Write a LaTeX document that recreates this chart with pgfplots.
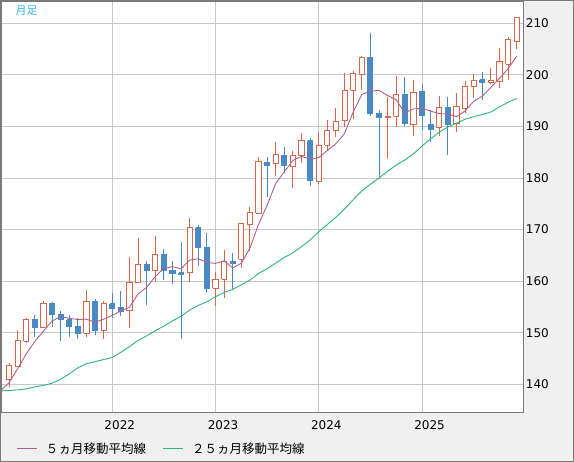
\documentclass[border=0pt]{standalone}
\usepackage{fontspec}
\setmainfont{DejaVu Sans}
\newfontfamily\jp{Noto Sans CJK JP}
\usepackage{pgfplots}
\usepackage{pgfplotstable}
\pgfplotsset{compat=1.18}
\definecolor{cup}{HTML}{D9654A}
\definecolor{cdn}{HTML}{4A8AC4}
\definecolor{ma5}{HTML}{B0628C}
\definecolor{ma25}{HTML}{2DB57C}
\definecolor{gridc}{HTML}{C8C8C8}
\definecolor{bgc}{HTML}{F0F0F0}
\definecolor{framec}{HTML}{7A7A7A}
\definecolor{titc}{HTML}{30B4F0}

\pgfplotstableread{
i O H L C
0 141.0 144.2 139.5 143.6
1 143.5 150.5 143.3 148.5
2 148.3 152.9 148.0 152.6
3 152.6 153.4 149.1 151.0
4 151.0 156.2 150.9 155.7
5 155.7 155.9 151.2 153.6
6 153.6 154.2 148.4 152.5
7 152.5 153.4 149.2 151.2
8 151.3 152.8 148.8 149.8
9 149.9 158.3 149.2 156.1
10 156.1 156.5 149.6 150.4
11 150.4 156.1 148.8 155.7
12 155.6 157.8 152.9 154.7
13 154.8 158.1 153.3 154.2
14 154.3 164.7 151.0 159.8
15 159.7 168.4 159.6 163.3
16 163.3 163.9 155.4 162.0
17 162.0 168.7 159.9 165.2
18 165.2 166.3 160.2 162.1
19 162.1 163.9 159.4 161.4
20 161.6 167.5 148.8 161.3
21 161.7 172.2 159.8 170.4
22 170.4 170.9 163.0 166.5
23 166.6 169.3 157.8 158.6
24 158.6 161.8 155.2 160.4
25 160.4 166.0 156.7 163.8
26 163.8 165.5 158.2 163.5
27 164.2 171.2 162.6 171.1
28 171.0 174.4 165.9 173.3
29 173.2 184.0 173.1 183.3
30 183.1 184.0 176.3 182.5
31 182.8 186.9 180.4 184.6
32 184.4 186.0 180.9 182.4
33 182.2 185.2 178.0 184.3
34 184.3 188.8 182.9 187.2
35 187.2 187.7 178.5 179.5
36 179.4 189.0 178.9 186.4
37 186.4 191.3 185.2 189.3
38 189.3 193.6 187.9 191.0
39 191.1 200.4 189.9 197.0
40 197.0 200.8 191.4 200.3
41 200.1 203.7 197.1 203.4
42 203.4 208.1 192.1 192.5
43 192.6 193.2 180.0 191.8
44 191.7 195.8 183.7 192.0
45 192.0 199.8 189.9 196.1
46 196.1 199.5 190.1 190.6
47 190.3 199.0 188.1 196.6
48 196.7 198.3 189.3 192.1
49 190.3 193.2 186.9 189.5
50 189.7 196.0 188.2 193.6
51 193.6 195.7 184.4 190.4
52 190.5 196.5 189.0 193.8
53 193.4 198.9 192.7 197.7
54 197.7 200.1 195.5 198.9
55 199.1 200.5 195.2 198.6
56 198.5 201.4 198.2 198.9
57 198.8 205.3 197.5 202.6
58 202.1 207.3 199.0 206.9
59 206.4 211.1 205.1 211.1
}\ohlc

\pgfplotstableread{
i m5 m25
-1 138.7 138.7
0 140.3 138.8
1 143.0 138.9
2 145.9 139.1
3 148.3 139.5
4 150.28 139.8
5 152.28 140.2
6 153.08 141.0
7 152.80 142.0
8 152.56 143.2
9 152.64 144.0
10 152.00 144.4
11 152.64 144.8
12 153.34 145.2
13 154.22 146.2
14 154.96 147.3
15 157.54 148.5
16 158.80 149.4
17 160.90 150.4
18 162.48 151.3
19 162.80 152.3
20 162.40 153.2
21 164.08 154.4
22 164.34 155.3
23 163.64 156.0
24 163.44 157.0
25 163.94 157.8
26 162.56 158.4
27 163.48 159.3
28 166.42 160.2
29 171.00 161.5
30 174.74 162.4
31 178.96 163.5
32 181.22 164.6
33 183.42 165.5
34 184.20 166.7
35 183.60 168.0
36 183.96 169.6
37 185.34 171.0
38 186.68 172.4
39 188.64 174.0
40 192.80 175.8
41 196.20 177.5
42 196.84 178.8
43 197.00 180.0
44 196.00 181.3
45 195.16 182.5
46 192.60 183.5
47 193.42 184.7
48 193.48 186.2
49 192.98 187.6
50 192.48 188.9
51 192.44 189.9
52 191.88 190.6
53 193.00 191.4
54 194.88 191.9
55 195.88 192.3
56 197.58 192.8
57 199.34 193.8
58 201.18 194.7
59 203.62 195.4
}\ma

\begin{document}
\begin{tikzpicture}[x=1bp,y=1bp]
\fill[bgc] (0,0) rectangle (574,462);
\useasboundingbox (0,0) rectangle (574,462);
\begin{axis}[
  at={(1bp,49.7bp)}, anchor=south west,
  scale only axis, width=522.3bp, height=411.3bp,
  xmin=-0.93, xmax=59.77, ymin=134.57, ymax=214.33,
  axis background/.style={fill=white},
  axis line style={framec, line width=1.2bp},
  grid=major, major grid style={gridc, line width=1bp},
  xtick={12,24,36,48}, xticklabels={2022,2023,2024,2025},
  ytick={140,150,...,210},
  yticklabel pos=right,
  major tick length=0pt,
  tick style={draw=none},
  /pgf/number format/assume math mode=true,
  ticklabel style={font=\fontsize{12bp}{14bp}\selectfont, text=black},
  xticklabel style={anchor=north, inner sep=0pt, xshift=7.5bp, yshift=-8.3bp},
  yticklabel style={anchor=west, inner sep=0pt, xshift=2.4bp},
  clip=true,
]
\pgfplotsforeachungrouped \k in {0,...,59}{%
  \pgfplotstablegetelem{\k}{O}\of\ohlc \let\vO\pgfplotsretval
  \pgfplotstablegetelem{\k}{H}\of\ohlc \let\vH\pgfplotsretval
  \pgfplotstablegetelem{\k}{L}\of\ohlc \let\vL\pgfplotsretval
  \pgfplotstablegetelem{\k}{C}\of\ohlc \let\vC\pgfplotsretval
  \pgfmathsetmacro\xl{\k-0.3}%
  \pgfmathsetmacro\xr{\k+0.3}%
  \ifdim\vC pt<\vO pt \def\cc{cdn}\def\ff{cdn}\else\def\cc{cup}\def\ff{white}\fi
  \edef\doit{%
    \noexpand\addplot[draw=\cc, line width=1bp, forget plot] coordinates {(\k,\vL) (\k,\vH)};
    \noexpand\addplot[draw=\cc, fill=\ff, line width=1bp, line join=miter, forget plot] coordinates {(\xl,\vO) (\xr,\vO) (\xr,\vC) (\xl,\vC) (\xl,\vO)};
  }%
  \doit
}
\addplot[ma25, line width=0.9bp, mark=none] table[x=i, y=m25] {\ma};
\addplot[ma5, line width=0.9bp, mark=none] table[x=i, y=m5] {\ma};
\end{axis}
\node[titc, font=\jp\fontsize{11bp}{13bp}\selectfont, inner sep=0pt] at (26.7,451.5) {月足};
\draw[ma5, line width=1bp] (16.5,13.7) -- (36.6,13.7);
\node[anchor=west, inner sep=0pt, font=\jp\fontsize{12.5bp}{14bp}\selectfont] at (45.8,13.7) {５ヵ月移動平均線};
\draw[ma25, line width=1bp] (163,13.7) -- (183,13.7);
\node[anchor=west, inner sep=0pt, font=\jp\fontsize{12.5bp}{14bp}\selectfont] at (192,13.7) {２５ヵ月移動平均線};
\draw[framec, line width=1bp] (0.5,0.5) rectangle (573.5,461.5);
\end{tikzpicture}
\end{document}
